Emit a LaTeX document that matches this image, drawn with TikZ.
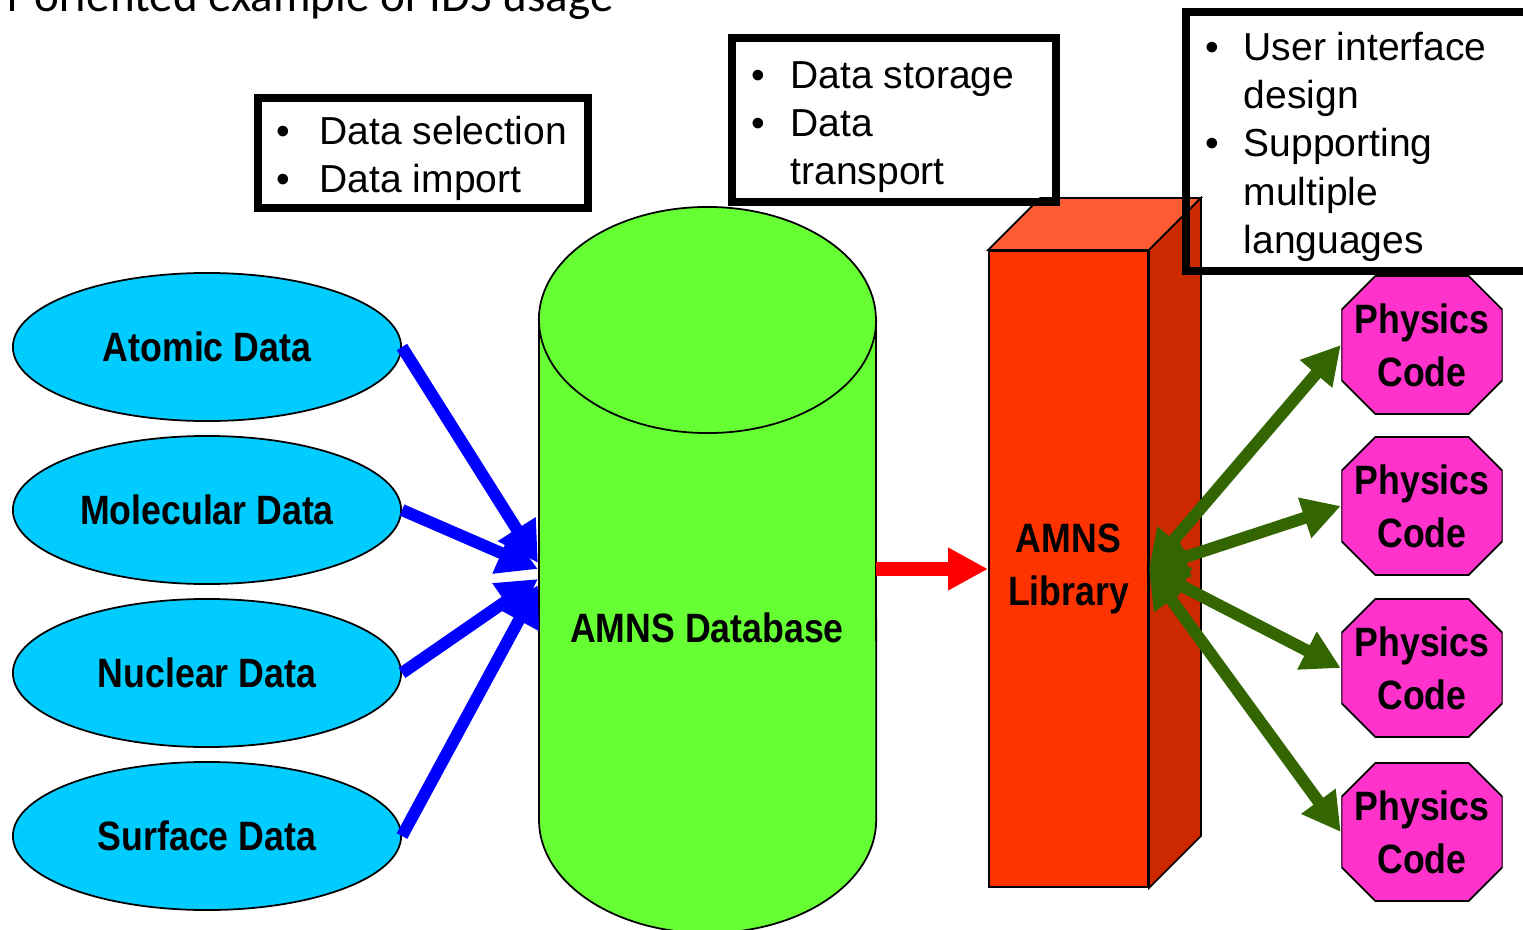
\documentclass[tikz,border=0pt]{standalone}
\usepackage{fontspec}
\setmainfont{Liberation Sans}
\newfontfamily\labfont[FakeStretch=0.87]{Liberation Sans}
\newfontfamily\titlefont{Carlito}
\usetikzlibrary{arrows.meta,shapes.geometric,calc}
\definecolor{cyanfill}{HTML}{00CCFF}
\definecolor{dbgreen}{HTML}{66FF33}
\definecolor{libfront}{HTML}{FF3300}
\definecolor{libtop}{HTML}{FF5B33}
\definecolor{libside}{HTML}{CC2900}
\definecolor{pcfill}{HTML}{FF33CC}
\definecolor{arrowgreen}{HTML}{336600}
\newcommand\nbul[1][0.39cm]{\makebox[#1][l]{•}}
\tikzset{
  lbl/.style={font={\labfont\bfseries\fontsize{11.66pt}{15.08pt}\selectfont}, align=center},
  datael/.style={ellipse, draw=black, line width=0.5pt, fill=cyanfill, minimum width=3.88cm, minimum height=1.48cm, inner sep=0pt, lbl},
  pcode/.style={rectangle, minimum width=1.61cm, minimum height=1.38cm, inner sep=0pt, lbl,
    path picture={\path[fill=pcfill, draw=black, line width=0.5pt]
      ([xshift=0.34cm]path picture bounding box.north west) -- ([xshift=-0.34cm]path picture bounding box.north east) --
      ([yshift=-0.34cm]path picture bounding box.north east) -- ([yshift=0.34cm]path picture bounding box.south east) --
      ([xshift=-0.34cm]path picture bounding box.south east) -- ([xshift=0.34cm]path picture bounding box.south west) --
      ([yshift=0.34cm]path picture bounding box.south west) -- ([yshift=-0.34cm]path picture bounding box.north west) -- cycle;}},
  notebox/.style={draw=black, line width=0.085cm, inner sep=0pt},
  notetext/.style={font={\fontsize{11.1pt}{13.75pt}\selectfont}, anchor=base west, inner sep=0pt},
  thinline/.style={draw=black, line width=0.5pt},
  bluearrow/.style={draw=blue, line width=0.12cm, -{Triangle[length=0.4cm,width=0.42cm]}},
  redarrow/.style={draw=red, line width=0.14cm, -{Triangle[length=0.4cm,width=0.4cm]}},
  greenarrow/.style={draw=arrowgreen, line width=0.12cm, {Triangle[length=0.38cm,width=0.4cm]}-{Triangle[length=0.38cm,width=0.4cm]}}
}
\begin{document}
\begin{tikzpicture}[x=0.01cm, y=-0.01cm]
\useasboundingbox (0,0) rectangle (1523,930);
\clip (0,0) rectangle (1523,930);

% title (cut off at top, as in the reference)
\node[font={\titlefont\fontsize{13.37pt}{16pt}\selectfont}, anchor=base west, inner sep=0pt] (title) at (7,11) {r oriented example of IDS usage};

% data sources
\node[datael] (atomic) at (207,347) {Atomic Data};
\node[datael] (molecular) at (207,510) {Molecular Data};
\node[datael] (nuclear) at (207,673) {Nuclear Data};
\node[datael] (surface) at (207,836) {Surface Data};

% database cylinder
\filldraw[thinline, fill=dbgreen] (539,320) -- (539,820)
  arc[start angle=180, end angle=360, x radius=1.685cm, y radius=1.13cm] -- (876,320)
  arc[start angle=0, end angle=180, x radius=1.685cm, y radius=1.13cm] -- cycle;
\draw[thinline] (539,320) arc[start angle=180, end angle=360, x radius=1.685cm, y radius=1.13cm];
\node[lbl] (db) at (707,628) {AMNS Database};
\coordinate (dbL1) at (538,563);
\coordinate (dbL2) at (538,569);
\coordinate (dbL3) at (538,579);
\coordinate (dbL4) at (538,585);
\coordinate (dbR) at (876,569);

% library block
\node[thinline, fill=libfront, minimum width=1.59cm, minimum height=6.36cm, inner sep=0pt, lbl] (lib) at (1068.5,569) {AMNS\\Library};
\filldraw[thinline, fill=libtop] (lib.north west) -- ([shift={(0.52cm,0.52cm)}]lib.north west) -- ([shift={(0.52cm,0.52cm)}]lib.north east) -- (lib.north east) -- cycle;
\filldraw[thinline, fill=libside] (lib.north east) -- ([shift={(0.52cm,0.52cm)}]lib.north east) -- ([shift={(0.52cm,0.52cm)}]lib.south east) -- (lib.south east) -- cycle;

% physics codes
\node[pcode] (pc1) at (1422,345) {Physics\\Code};
\node[pcode] (pc2) at (1422,506) {Physics\\Code};
\node[pcode] (pc3) at (1422,668) {Physics\\Code};
\node[pcode] (pc4) at (1422,832) {Physics\\Code};

% arrows
\draw[bluearrow] (atomic.east) -- (dbL1);
\draw[bluearrow] (molecular.east) -- (dbL2);
\draw[bluearrow] (nuclear.east) -- (dbL3);
\draw[bluearrow] (surface.east) -- (dbL4);
\draw[redarrow] (dbR) -- (lib.west);
\draw[greenarrow] (lib.east) -- (pc1.west);
\draw[greenarrow] (lib.east) -- (pc2.west);
\draw[greenarrow] (lib.east) -- (pc3.west);
\draw[greenarrow] (lib.east) -- (pc4.west);

% note boxes
\node[notebox, minimum width=3.30cm, minimum height=1.10cm] (n1) at (423,153) {};
\node[notetext] (n1t) at (276,144) {\parbox[t]{3.2cm}{\nbul[0.43cm]Data selection\\\nbul[0.43cm]Data import}};
\node[notebox, minimum width=3.24cm, minimum height=1.64cm] (n2) at (894,120) {};
\node[notetext] (n2t) at (751,88) {\parbox[t]{3.2cm}{\nbul Data storage\\\nbul Data\\\hspace*{0.39cm}transport}};
\node[notebox, minimum width=3.74cm, minimum height=2.59cm] (n3) at (1373,141.5) {};
\node[notetext] (n3t) at (1205,60) {\parbox[t]{3.4cm}{\nbul[0.38cm]User interface\\\hspace*{0.38cm}design\\\nbul[0.38cm]Supporting\\\hspace*{0.38cm}multiple\\\hspace*{0.38cm}languages}};
\end{tikzpicture}
\end{document}
